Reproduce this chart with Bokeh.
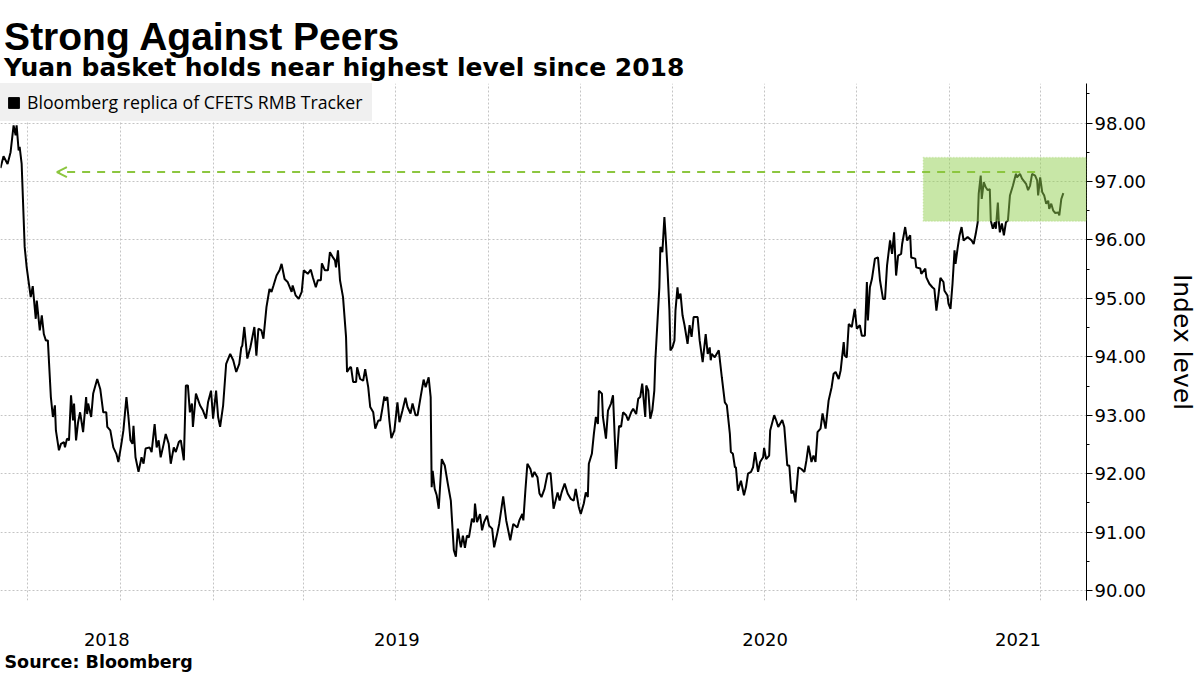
import pandas as pd
from bokeh.plotting import figure
from bokeh.layouts import column
from bokeh.models import (ColumnDataSource, Range1d, FixedTicker, SingleIntervalTicker,
                          NumeralTickFormatter, BoxAnnotation, Arrow, OpenHead, Legend,
                          LegendItem, Label, Title)
from bokeh.embed import file_html
from bokeh.resources import INLINE

# ---------------- text ----------------
title_text = "Strong Against Peers"
subtitle_text = "Yuan basket holds near highest level since 2018"
series_name = "Bloomberg replica of CFETS RMB Tracker"
source_text = "Source: Bloomberg"
y_label = "Index level"
year_labels = ["2018", "2019", "2020", "2021"]

# ---------------- data ----------------
series_start = "2018-06-04"
day_offsets = [
    0, 3, 7, 10, 13, 15, 16, 18, 19, 21,
    24, 26, 30, 32, 35, 36, 39, 41, 43, 45,
    47, 50, 52, 54, 55, 58, 60, 63, 64, 66,
    68, 70, 72, 73, 75, 77, 79, 80, 82, 85,
    86, 87, 90, 92, 96, 99, 102, 105, 106, 109,
    112, 115, 117, 120, 122, 125, 127, 129, 131, 132,
    134, 137, 140, 142, 144, 148, 150, 153, 155, 157,
    159, 162, 164, 167, 169, 172, 174, 177, 179, 182,
    184, 186, 188, 190, 191, 194, 198, 201, 204, 206,
    209, 211, 214, 216, 218, 221, 224, 228, 231, 234,
    237, 239, 240, 242, 245, 248, 252, 254, 256, 259,
    261, 264, 267, 269, 271, 274, 277, 279, 282, 285,
    289, 290, 293, 296, 299, 301, 305, 308, 310, 313,
    315, 318, 319, 322, 325, 327, 330, 332, 333, 335,
    337, 340, 343, 344, 347, 348, 350, 353, 354, 357,
    360, 362, 365, 367, 370, 372, 375, 377, 379, 381,
    382, 384, 386, 388, 391, 394, 396, 399, 402, 404,
    407, 409, 412, 414, 417, 420, 422, 425, 427, 428,
    429, 431, 433, 435, 438, 441, 444, 447, 450, 452,
    454, 456, 457, 459, 461, 463, 465, 468, 470, 471,
    473, 476, 478, 480, 483, 485, 488, 490, 493, 495,
    499, 502, 506, 509, 513, 515, 518, 519, 521, 523,
    526, 528, 530, 533, 535, 537, 540, 543, 546, 549,
    553, 555, 557, 560, 563, 566, 569, 571, 574, 576,
    579, 581, 583, 584, 587, 589, 591, 593, 594, 597,
    598, 601, 603, 606, 608, 611, 614, 616, 618, 621,
    623, 626, 628, 631, 633, 635, 637, 640, 641, 643,
    645, 647, 649, 650, 652, 654, 655, 657, 659, 660,
    662, 664, 665, 667, 669, 670, 672, 673, 675, 677,
    679, 682, 684, 686, 688, 692, 694, 697, 700, 702,
    704, 705, 706, 709, 711, 713, 716, 719, 721, 724,
    725, 727, 729, 730, 732, 735, 738, 740, 742, 745,
    747, 749, 752, 754, 757, 758, 760, 763, 764, 768,
    770, 772, 776, 778, 781, 783, 785, 787, 789, 792,
    795, 798, 800, 802, 805, 807, 809, 811, 814, 816,
    819, 822, 825, 827, 829, 832, 834, 837, 838, 840,
    842, 845, 848, 850, 853, 855, 858, 860, 861, 863,
    865, 868, 871, 873, 876, 878, 880, 883, 885, 887,
    889, 891, 894, 895, 898, 900, 903, 904, 908, 909,
    913, 914, 918, 919, 922, 925, 927, 929, 931, 933,
    936, 937, 940, 941, 943, 945, 947, 948, 950, 952,
    954, 956, 958, 960, 962, 964, 966, 968, 970, 971,
    973, 974, 976, 978, 980, 982, 983, 985, 987, 988,
    990, 991, 992, 994, 996, 998, 1000, 1002, 1005, 1008,
    1009, 1012, 1014, 1018, 1020, 1022, 1024, 1027, 1029, 1030,
    1032, 1034, 1036, 1038, 1040, 1041, 1043, 1045, 1047, 1050,
    1051, 1053, 1055,
]
index_level = [
    97.23, 97.43, 97.30, 97.50, 97.96, 97.79, 97.96, 97.53, 97.59, 97.30,
    95.88, 95.53, 95.02, 95.21, 94.65, 94.96, 94.45, 94.71, 94.39, 94.28,
    94.28, 93.31, 92.97, 93.17, 92.74, 92.40, 92.51, 92.54, 92.45, 92.60,
    92.57, 93.34, 92.91, 93.20, 92.57, 92.88, 93.05, 92.94, 92.71, 93.31,
    93.02, 93.20, 92.97, 93.37, 93.62, 93.45, 93.05, 93.05, 92.80, 92.74,
    92.45, 92.34, 92.20, 92.51, 92.74, 93.31, 92.97, 92.57, 92.51, 92.82,
    92.28, 92.03, 92.28, 92.17, 92.43, 92.45, 92.37, 92.85, 92.45, 92.57,
    92.28, 92.51, 92.68, 92.51, 92.17, 92.45, 92.37, 92.54, 92.57, 92.23,
    93.51, 93.51, 93.05, 93.20, 92.80, 93.37, 93.17, 93.08, 92.94, 93.22,
    93.42, 92.94, 93.42, 92.97, 92.80, 93.17, 93.88, 94.05, 93.94, 93.74,
    93.88, 94.16, 94.19, 94.51, 93.97, 94.16, 94.51, 94.02, 94.48, 94.45,
    94.31, 94.85, 95.16, 95.11, 95.22, 95.39, 95.48, 95.59, 95.33, 95.28,
    95.11, 95.22, 95.05, 94.99, 95.11, 95.48, 95.42, 95.49, 95.36, 95.19,
    95.31, 95.31, 95.60, 95.48, 95.48, 95.79, 95.70, 95.65, 95.53, 95.82,
    95.31, 95.02, 94.34, 93.74, 93.82, 93.82, 93.57, 93.57, 93.82, 93.62,
    93.59, 93.79, 93.48, 93.14, 93.05, 92.77, 92.91, 92.91, 93.11, 93.32,
    93.25, 93.31, 92.91, 92.61, 92.74, 93.22, 92.88, 93.08, 93.30, 93.14,
    93.03, 93.20, 93.00, 93.00, 93.31, 93.61, 93.48, 93.65, 93.31, 91.77,
    92.05, 91.74, 91.63, 91.40, 92.25, 92.14, 91.83, 91.54, 90.69, 90.58,
    91.06, 90.83, 90.74, 90.94, 90.73, 90.94, 90.91, 91.23, 91.17, 91.49,
    91.17, 91.31, 91.03, 91.17, 91.28, 91.11, 91.06, 90.74, 90.97, 91.14,
    91.61, 91.20, 90.86, 91.14, 91.08, 91.20, 91.31, 91.20, 91.71, 92.17,
    92.08, 91.94, 92.03, 91.94, 91.66, 91.60, 91.74, 92.00, 92.01, 91.40,
    91.68, 91.54, 91.68, 91.83, 91.66, 91.57, 91.54, 91.74, 91.43, 91.31,
    91.49, 91.68, 91.60, 92.17, 92.34, 92.68, 92.97, 92.85, 93.42, 93.37,
    92.97, 92.60, 93.08, 93.20, 93.34, 92.08, 92.82, 92.80, 93.05, 93.00,
    92.91, 93.05, 93.11, 93.02, 93.28, 93.31, 93.54, 92.97, 93.51, 93.42,
    92.94, 93.08, 93.42, 93.94, 94.56, 95.19, 95.88, 95.79, 96.39, 96.13,
    95.53, 94.79, 94.11, 94.16, 94.28, 94.79, 95.19, 94.99, 95.08, 94.71,
    94.54, 94.22, 94.54, 94.34, 94.68, 94.68, 94.28, 93.91, 94.39, 94.05,
    94.16, 93.94, 94.05, 93.99, 94.05, 94.11, 93.65, 93.22, 93.17, 92.68,
    92.37, 92.34, 92.11, 92.11, 91.71, 91.88, 91.63, 91.77, 92.00, 92.03,
    92.11, 92.37, 92.03, 92.20, 92.28, 92.44, 92.25, 92.31, 92.74, 93.00,
    92.91, 92.80, 92.92, 92.80, 92.14, 92.14, 91.66, 91.71, 91.51, 92.11,
    92.08, 92.03, 92.23, 92.48, 92.20, 92.31, 92.20, 92.71, 92.77, 93.03,
    92.77, 93.25, 93.48, 93.71, 93.74, 93.62, 93.77, 94.25, 94.02, 93.99,
    94.56, 94.51, 94.82, 94.48, 94.54, 94.36, 94.36, 95.28, 94.62, 95.19,
    95.33, 95.68, 95.70, 95.31, 94.99, 94.99, 95.56, 95.99, 95.76, 96.13,
    95.39, 95.73, 95.76, 95.93, 96.22, 95.99, 96.08, 95.70, 95.68, 95.53,
    95.51, 95.42, 95.51, 95.36, 95.25, 95.19, 95.16, 94.79, 95.05, 95.35,
    95.28, 95.13, 95.05, 94.91, 94.82, 95.25, 95.82, 95.59, 95.85, 96.08,
    96.22, 95.99, 96.02, 96.05, 96.02, 95.99, 95.93, 96.10, 96.30, 96.79,
    97.10, 96.70, 96.99, 96.90, 96.85, 96.87, 96.33, 96.19, 96.30, 96.19,
    96.64, 96.30, 96.13, 96.28, 96.08, 96.30, 96.33, 96.76, 96.93, 97.13,
    97.07, 97.13, 97.05, 96.96, 96.85, 96.93, 97.13, 97.10, 97.02, 96.76,
    97.07, 96.82, 96.76, 96.62, 96.67, 96.53, 96.62, 96.50, 96.46, 96.47,
    96.42, 96.70, 96.80,
]

# axis extents and annotation values
x_start, x_end = "2018-06-04", "2021-05-17"
axis_min, axis_max = 89.83, 98.676
highlight_from = "2020-12-06"
highlight_low, highlight_high = 96.32, 97.41
arrow_from, arrow_to, arrow_level = "2021-03-27", "2018-07-30", 97.16

GREEN = "#8cc63f"
W = 1200
HEADER_H = 83


def ms(d):
    return int(pd.Timestamp(d).value // 10**6)


# ---------------- headline strip ----------------
header = figure(width=W, height=HEADER_H, x_range=Range1d(0, W), y_range=Range1d(HEADER_H, 0),
                x_axis_type=None, y_axis_type=None, toolbar_location=None,
                output_backend="svg", min_border=0)
header.outline_line_color = None
header.background_fill_color = "white"
header.border_fill_color = "white"
header.add_layout(Label(x=4, y=36, text=title_text, text_font="Liberation Sans",
                        text_font_size="39px", text_font_style="bold", text_color="black",
                        text_baseline="alphabetic", text_align="left"))
header.add_layout(Label(x=4, y=67, text=subtitle_text, text_font="DejaVu Sans",
                        text_font_size="25px", text_font_style="bold", text_color="black",
                        text_baseline="alphabetic", text_align="left"))

# ---------------- chart ----------------
dates = pd.Timestamp(series_start) + pd.to_timedelta(day_offsets, unit="D")
src = ColumnDataSource(dict(date=dates, level=index_level))

chart = figure(width=W, height=675 - HEADER_H, x_axis_type="datetime", y_axis_location="right",
               x_range=Range1d(ms(x_start), ms(x_end)), y_range=Range1d(axis_min, axis_max),
               output_backend="svg", toolbar_location=None, title=None,
               min_border_left=0, min_border_right=111, min_border_top=0, min_border_bottom=75)
chart.outline_line_color = None
chart.background_fill_color = "white"
chart.border_fill_color = "white"

# grids
quarters = pd.date_range("2018-07-01", "2021-04-01", freq="QS")
chart.xgrid.ticker = FixedTicker(ticks=[ms(q) for q in quarters])
for g in (chart.xgrid[0], chart.ygrid[0]):
    g.grid_line_color = "#c4c4c4"
    g.grid_line_dash = "2 2"
    g.grid_line_width = 1

# x axis: year labels centred in each visible year
xs, xe = pd.Timestamp(x_start), pd.Timestamp(x_end)
mids, overrides = [], {}
for lab in year_labels:
    lo = max(xs, pd.Timestamp(f"{lab}-01-01"))
    hi = min(xe, pd.Timestamp(f"{int(lab) + 1}-01-01"))
    m = (ms(lo) + ms(hi)) // 2
    mids.append(m)
    overrides[m] = lab
xax = chart.xaxis[0]
xax.ticker = FixedTicker(ticks=mids)
xax.major_label_overrides = overrides
xax.axis_line_color = None
xax.major_tick_line_color = None
xax.minor_tick_line_color = None
xax.major_label_standoff = 26
xax.major_label_text_font = "DejaVu Sans"
xax.major_label_text_font_size = "18px"
xax.major_label_text_color = "black"

# y axis
yax = chart.yaxis[0]
yax.ticker = SingleIntervalTicker(interval=1, num_minor_ticks=2)
yax.formatter = NumeralTickFormatter(format="0.00")
yax.axis_line_color = "black"
yax.major_tick_line_color = "black"
yax.minor_tick_line_color = "black"
yax.major_tick_out = 6
yax.major_tick_in = 0
yax.minor_tick_out = 3
yax.minor_tick_in = 0
yax.major_label_standoff = 2
yax.major_label_text_font = "DejaVu Sans"
yax.major_label_text_font_size = "18px"
yax.major_label_text_color = "black"
yax.axis_label = y_label
yax.axis_label_text_font = "DejaVu Sans"
yax.axis_label_text_font_size = "25px"
yax.axis_label_text_font_style = "normal"
yax.axis_label_text_color = "black"
yax.axis_label_standoff = 19

# series
chart.line(x="date", y="level", source=src, line_color="black", line_width=2)

# highlight box and arrow
chart.add_layout(BoxAnnotation(left=ms(highlight_from), bottom=highlight_low, top=highlight_high,
                               fill_color="#92d050", fill_alpha=0.5, line_color=GREEN,
                               line_width=1.5, line_dash="1 2"))
chart.add_layout(Arrow(end=OpenHead(size=10, line_color=GREEN, line_width=2),
                       x_start=ms(arrow_from), y_start=arrow_level,
                       x_end=ms(arrow_to), y_end=arrow_level,
                       line_color=GREEN, line_width=2, line_dash="8 7"))

# legend (swatch renderer carries no visible mark)
nan = float("nan")
swatch = chart.scatter(x=[nan], y=[nan], marker="square", fill_color="black", line_color="black")
legend = Legend(items=[LegendItem(label=series_name, renderers=[swatch])],
                location="top_left",
                background_fill_color="#f0f0f0", background_fill_alpha=1.0,
                border_line_color=None, margin=0, padding=0, spacing=0,
                glyph_width=27, glyph_height=27, label_standoff=0, label_height=38,
                label_width=345,
                label_text_font="Open Sans", label_text_font_size="17.7px",
                label_text_color="black")
chart.add_layout(legend)

# source note
chart.add_layout(Title(text=source_text, text_font="DejaVu Sans", text_font_size="17.5px",
                       text_font_style="bold", text_color="black", align="left", offset=4,
                       standoff=2), "below")

p = column(header, chart, spacing=0)
open("out.html", "w").write(file_html(p, INLINE))
